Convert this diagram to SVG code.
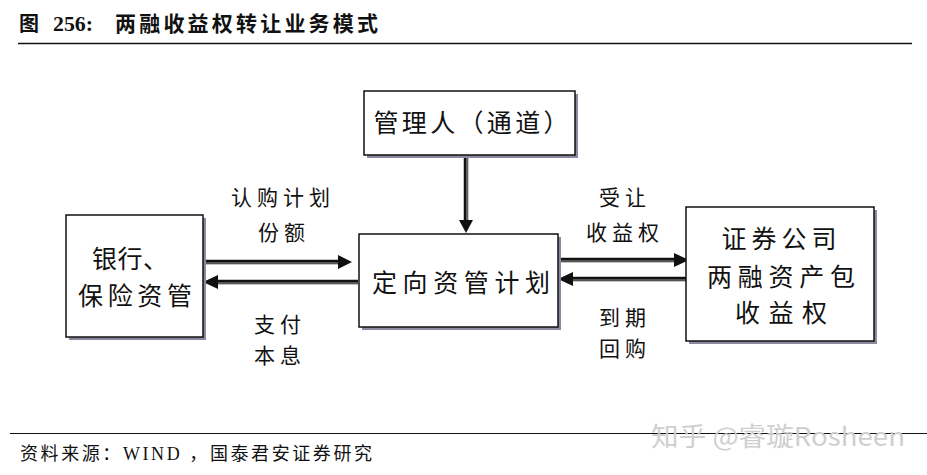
<svg xmlns="http://www.w3.org/2000/svg" width="927" height="475" viewBox="0 0 927 475">
<style>
.cjk{font-family:"Liberation Serif","Noto Sans CJK SC",serif;fill:#111}
.box{fill:#fff;stroke:#111;stroke-width:1.5}
.sh{fill:#8a8aa0}
.lbl{font-family:"Noto Sans CJK SC",sans-serif;font-size:21px;fill:#111}
.nt{font-family:"Noto Sans CJK SC",sans-serif;font-size:25px;fill:#111}
.ln{stroke:#111;stroke-width:4.5;fill:none}
.lni{stroke:#9a9a9a;stroke-width:1.2;fill:none}
</style>
<rect width="927" height="475" fill="#fff"/>
<g id="title">
<text class="cjk" x="19" y="31" font-size="20" font-weight="bold">图</text>
<text class="cjk" x="53" y="31" font-size="21" font-weight="bold" textLength="40" lengthAdjust="spacingAndGlyphs">256:</text>
<text class="cjk" x="115" y="31" font-size="21" font-weight="bold" textLength="263" lengthAdjust="spacing">两融收益权转让业务模式</text>
<line x1="18" y1="43.5" x2="912" y2="43.5" stroke="#111" stroke-width="1.5"/>
</g>
<g id="connectors">
<line class="ln" x1="466" y1="156" x2="466" y2="220"/>
<line class="lni" x1="467" y1="156" x2="467" y2="220"/>
<path d="M459,220 L473,220 L466,233 z" fill="#111"/>
<line class="ln" x1="203" y1="262" x2="340" y2="262"/>
<line class="lni" x1="203" y1="263" x2="340" y2="263"/>
<path d="M338,255 L352,262 L338,269 z" fill="#111"/>
<line class="ln" x1="358" y1="282" x2="216" y2="282"/>
<line class="lni" x1="358" y1="283" x2="216" y2="283"/>
<path d="M218,275 L203,282 L218,289 z" fill="#111"/>
<line class="ln" x1="558" y1="260" x2="676" y2="260"/>
<line class="lni" x1="558" y1="261" x2="676" y2="261"/>
<path d="M674,253 L689,260 L674,267 z" fill="#111"/>
<line class="ln" x1="686" y1="279" x2="571" y2="279"/>
<line class="lni" x1="686" y1="280" x2="571" y2="280"/>
<path d="M573,272 L558,279 L573,286 z" fill="#111"/>
<text class="lbl" x="283" y="205" text-anchor="middle" letter-spacing="5">认购计划</text>
<text class="lbl" x="284" y="240" text-anchor="middle" letter-spacing="5">份额</text>
<text class="lbl" x="280" y="332" text-anchor="middle" letter-spacing="5">支付</text>
<text class="lbl" x="280" y="363" text-anchor="middle" letter-spacing="5">本息</text>
<text class="lbl" x="625" y="205" text-anchor="middle" letter-spacing="5">受让</text>
<text class="lbl" x="625" y="240" text-anchor="middle" letter-spacing="5">收益权</text>
<text class="lbl" x="625" y="325" text-anchor="middle" letter-spacing="5">到期</text>
<text class="lbl" x="625" y="356" text-anchor="middle" letter-spacing="5">回购</text>
</g>
<g id="node-manager">
<rect class="sh" x="367" y="94" width="211" height="64"/>
<rect class="box" x="364" y="91" width="211" height="64"/>
<text class="nt" x="471" y="132" text-anchor="middle" font-size="26" textLength="195" lengthAdjust="spacing">管理人（通道）</text>
</g>
<g id="node-plan">
<rect class="sh" x="362" y="237" width="199" height="93"/>
<rect class="box" x="359" y="234" width="199" height="93"/>
<text class="nt" x="461" y="292" text-anchor="middle" textLength="178" lengthAdjust="spacing">定向资管计划</text>
</g>
<g id="node-bank">
<rect class="sh" x="69" y="218" width="137" height="122"/>
<rect class="box" x="66" y="215" width="137" height="122"/>
<text class="nt" x="92" y="268" font-size="26" textLength="76" lengthAdjust="spacing">银行、</text>
<text class="nt" x="78" y="305" font-size="26" textLength="114" lengthAdjust="spacing">保险资管</text>
</g>
<g id="node-broker">
<rect class="sh" x="689" y="210" width="188" height="134"/>
<rect class="box" x="686" y="207" width="188" height="134"/>
<text class="nt" x="779" y="248" text-anchor="middle" textLength="115" lengthAdjust="spacing">证券公司</text>
<text class="nt" x="781" y="286" text-anchor="middle" textLength="148" lengthAdjust="spacing">两融资产包</text>
<text class="nt" x="781" y="322" text-anchor="middle" textLength="92" lengthAdjust="spacing">收益权</text>
</g>
<g id="footer">
<line x1="10" y1="433.5" x2="927" y2="433.5" stroke="#111" stroke-width="1.2"/>
<text x="651" y="446" font-family="'Noto Sans CJK SC',sans-serif" font-size="26" fill="#cfcfcf" textLength="254" lengthAdjust="spacingAndGlyphs">知乎 @睿璇Rosheen</text>
<text class="cjk" x="20" y="460" font-size="18" textLength="352" lengthAdjust="spacing">资料来源：WIND ，国泰君安证券研究</text>
</g>
</svg>
